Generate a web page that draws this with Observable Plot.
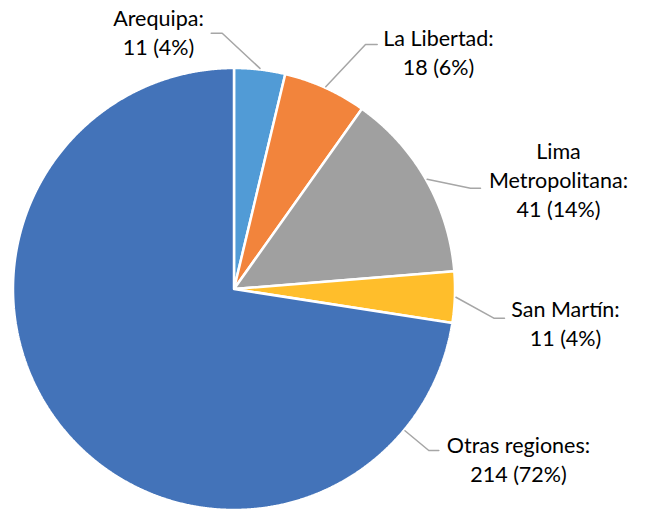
<!DOCTYPE html>
<html>
<head>
<meta charset="utf-8">
<script src="https://cdn.jsdelivr.net/npm/d3@7"></script>
<script src="https://cdn.jsdelivr.net/npm/@observablehq/plot@0.6"></script>
<style>
  html, body { margin: 0; padding: 0; background: #fff; }
  #chart svg { display: block; }
</style>
</head>
<body>
<div id="chart"></div>
<script>
// ---- data ----
const regions = ["Arequipa", "La Libertad", "Lima Metropolitana", "San Martín", "Otras regiones"];
const counts = [11, 18, 41, 11, 214];
const percentLabels = ["4%", "6%", "14%", "4%", "72%"];
const labelNames = ["Arequipa:", "La Libertad:", "Lima\nMetropolitana:", "San Martín:", "Otras regiones:"];
const colors = ["#519BD6", "#F2843C", "#A0A0A0", "#FFBE2B", "#4373B9"];

// ---- layout (pixels) ----
const W = 645, H = 510, CX = 233.5, CY = 288.5, R = 221;
const FONT = 21.5, LINE = 29;
// label text centre x, last-line baseline y, leader end point (ex, ey), elbow x (bx)
const labelLayout = [
  {tx: 158, ty: 54,    ex: 210.7, ey: 32.7,  bx: 221.7},
  {tx: 438, ty: 74.5,  ex: 376.7, ey: 44,    bx: 365},
  {tx: 558, ty: 216,   ex: 480,   ey: 187.7, bx: 470},
  {tx: 565, ty: 345,   ex: 504,   ey: 317.7, bx: 493.3},
  {tx: 518, ty: 481.5, ex: 438.3, ey: 450,   bx: 428.3}
];
const ux = px => (px - CX) / R;
const uy = py => (CY - py) / R;

// ---- geometry from data ----
const arcs = d3.pie().sort(null).value(d => d)(counts);
const slicePts = [];
arcs.forEach((a, i) => {
  const region = regions[i];
  slicePts.push({region, x: 0, y: 0});
  const n = Math.max(2, Math.ceil((a.endAngle - a.startAngle) / (Math.PI / 720)));
  for (let k = 0; k <= n; k++) {
    const t = a.startAngle + (a.endAngle - a.startAngle) * k / n;
    slicePts.push({region, x: Math.sin(t), y: Math.cos(t)});
  }
  slicePts.push({region, x: 0, y: 0});
});

const norm = t => ((t % (2 * Math.PI)) + 2 * Math.PI) % (2 * Math.PI);
const leaderPts = [];
const labels = [];
arcs.forEach((a, i) => {
  const L = labelLayout[i];
  const region = regions[i];
  const bxU = ux(L.bx), byU = uy(L.ey);
  const mid = (a.startAngle + a.endAngle) / 2;
  let dir = norm(Math.atan2(bxU, byU));
  let diff = Math.abs(norm(dir - mid));
  diff = Math.min(diff, 2 * Math.PI - diff);
  let ang = mid;
  if (diff > Math.PI / 2 && dir >= a.startAngle && dir <= a.endAngle) ang = dir;
  const rr = 1.005;
  leaderPts.push({region, x: rr * Math.sin(ang), y: rr * Math.cos(ang)});
  leaderPts.push({region, x: bxU, y: byU});
  leaderPts.push({region, x: ux(L.ex), y: byU});
  labels.push({region, x: ux(L.tx), y: uy(L.ty), text: `${labelNames[i]}\n${counts[i]} (${percentLabels[i]})`});
});

const chart = Plot.plot({
  width: W,
  height: H,
  margin: 0,
  x: {domain: [ux(0), ux(W)], range: [0, W], axis: null},
  y: {domain: [uy(H), uy(0)], range: [H, 0], axis: null},
  color: {domain: regions, range: colors},
  style: {fontFamily: "Lato, 'Open Sans', sans-serif", fontSize: FONT + "px", background: "#fff", color: "#000"},
  marks: [
    Plot.line(slicePts, {x: "x", y: "y", z: "region", fill: "region", stroke: "white", strokeWidth: 2.5, strokeLinejoin: "miter", curve: "linear"}),
    Plot.line(leaderPts, {x: "x", y: "y", z: "region", stroke: "#A6A6A6", strokeWidth: 1.5, curve: "linear"}),
    Plot.text(labels, {x: "x", y: "y", text: "text", textAnchor: "middle", lineAnchor: "bottom", lineHeight: LINE / FONT, fontSize: FONT, fill: "#000"})
  ]
});
document.getElementById("chart").appendChild(chart);
</script>
</body>
</html>
